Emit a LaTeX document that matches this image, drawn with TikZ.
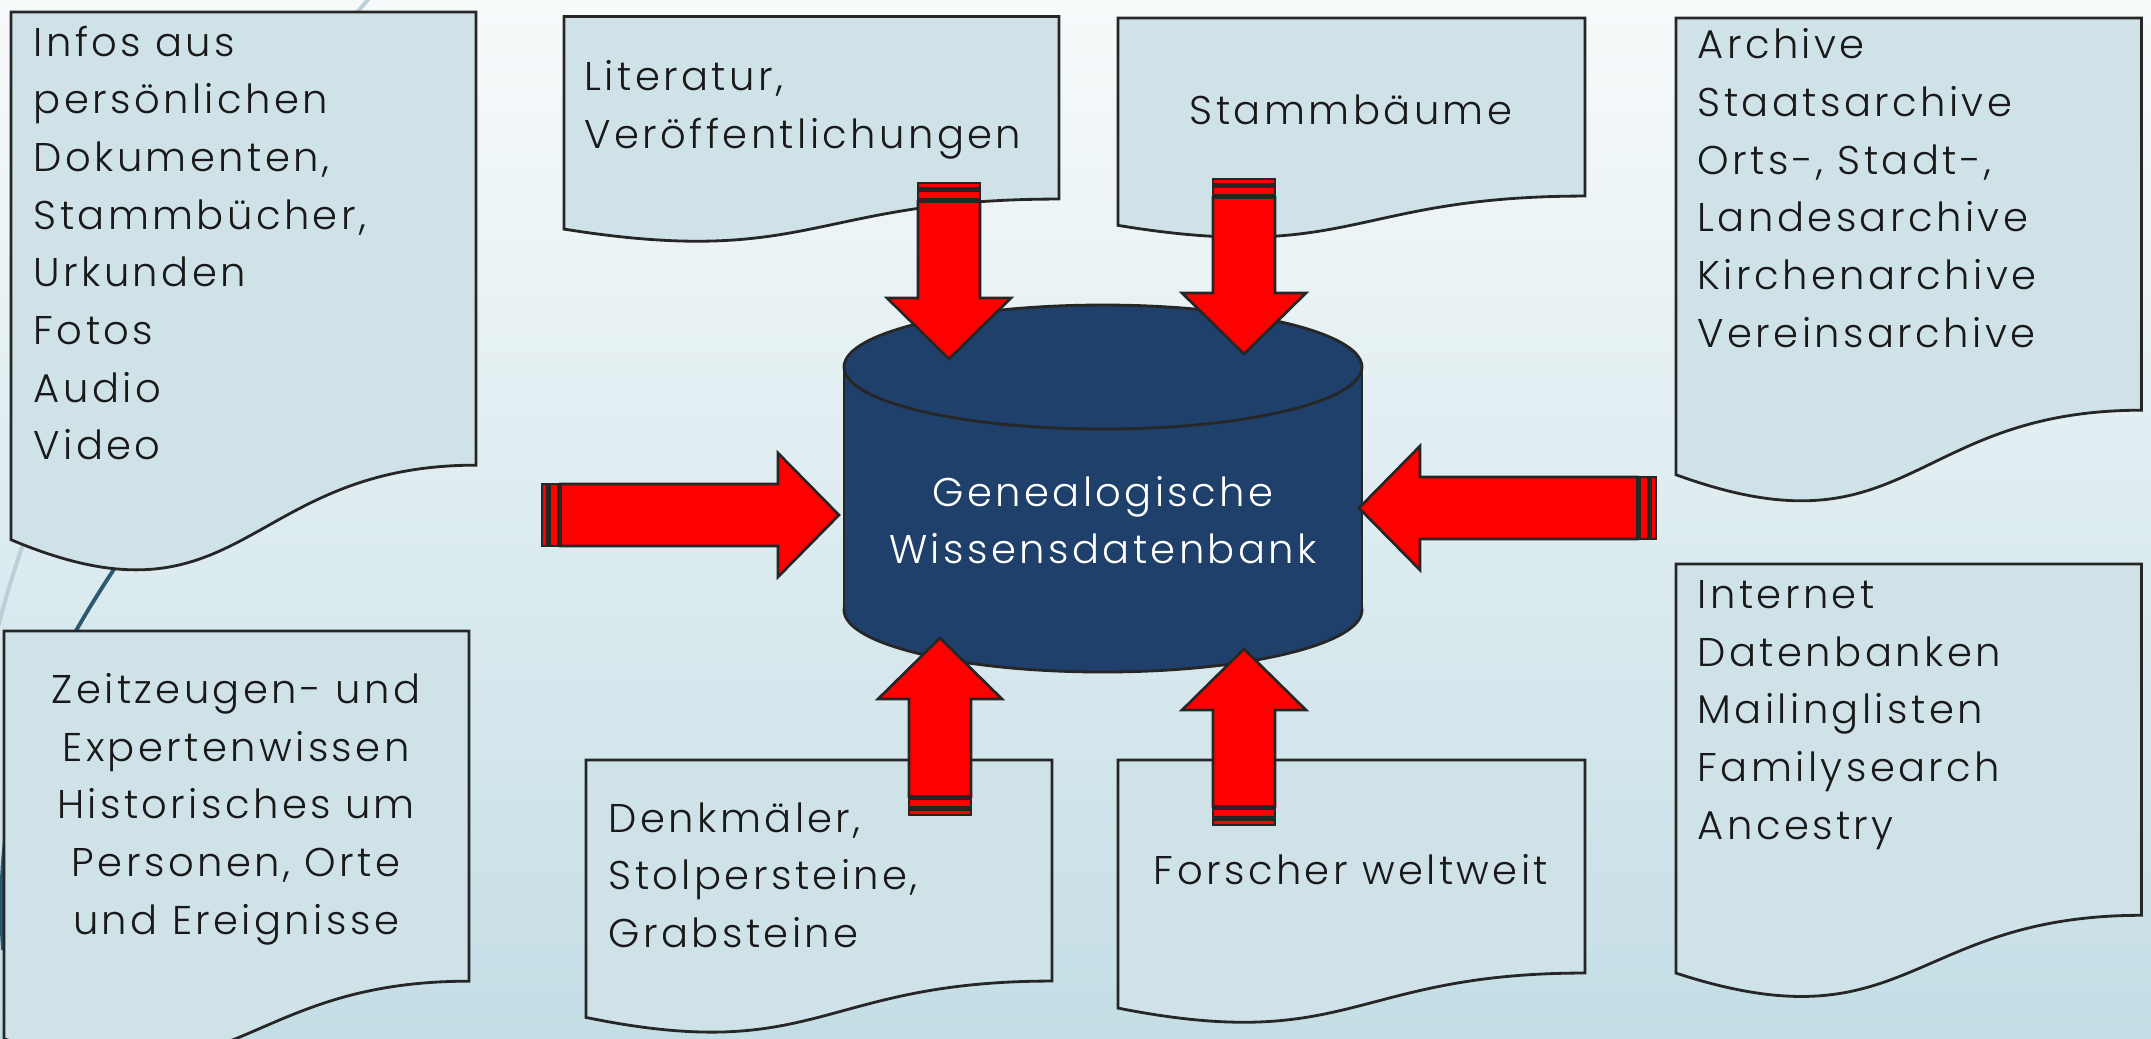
\documentclass[tikz,border=0pt]{standalone}
\usepackage{fontspec}
\setmainfont{Poppins Light}[LetterSpace=8.5]

\definecolor{boxfill}{RGB}{207,226,232}
\definecolor{lineclr}{RGB}{38,38,38}
\definecolor{dbblue}{RGB}{31,64,106}
\definecolor{swoosh}{RGB}{45,88,114}
\definecolor{swooshlight}{RGB}{185,208,216}
\definecolor{bgtop}{RGB}{247,250,251}
\definecolor{bgbottom}{RGB}{196,222,229}

\tikzset{
  pics/stripearrow/.style={code={
    \draw[arrowpart] (0,-31) rectangle (5.5,31);
    \draw[arrowpart] (7.5,-31) rectangle (16.5,31);
    \draw[arrowpart] (18.5,-31) -- (#1-61,-31) -- (#1-61,-62) -- (#1,0)
      -- (#1-61,62) -- (#1-61,31) -- (18.5,31) -- cycle;
  }}
}
% document shape: left, top, width, height
\newcommand\docbox[4]{%
  \draw[docline] (#1,#2) -- (#1+#3,#2) -- (#1+#3,#2+0.802*#4)
    .. controls (#1+0.5*#3,#2+0.802*#4) and (#1+0.5*#3,#2+1.1075*#4) .. (#1,#2+0.934*#4) -- cycle;}

\begin{document}
\begin{tikzpicture}[x=0.01cm, y=-0.01cm,
    docline/.style = {draw=lineclr, fill=boxfill, line width=0.8pt},
    arrowpart/.style = {draw=lineclr, fill=red, line width=0.75pt},
    txt/.style = {font=\fontsize{11.4}{16.4}\selectfont, inner sep=0pt, align=left, text=black!90}]
\shade[top color=bgtop, bottom color=bgbottom] (0,0) rectangle (2151,1038);
\useasboundingbox (0,0) rectangle (2151,1038);
% background swooshes
\draw[swooshlight, line width=1.1pt] (372,-5) .. controls (150,250) and (40,450) .. (-5,640);
\draw[swoosh, line width=1.1pt] (130,545) .. controls (60,650) and (-10,760) .. (3,950);

% sources
\docbox{11}{12}{465}{565}
\docbox{564}{16.5}{495}{227.6}
\docbox{1118}{18}{467}{222}
\docbox{1676}{18}{465.5}{489}
\docbox{1676}{564}{465.5}{438}
\docbox{4}{631}{465}{436.6}
\docbox{586}{760}{466}{275.6}
\docbox{1118}{760}{467}{265.6}

\node[txt, anchor=west] (infos) at (33,243) {Infos aus\\persönlichen\\Dokumenten,\\Stammbücher,\\Urkunden\\Fotos\\Audio\\Video};
\node[txt, anchor=west] (lit) at (584,110) {Literatur,\\Veröffentlichungen};
\node[txt] (stamm) at (1351,110) {Stammbäume};
\node[txt, anchor=west] (archiv) at (1697,188) {Archive\\Staatsarchive\\Orts-, Stadt-,\\Landesarchive\\Kirchenarchive\\Vereinsarchive};
\node[txt, anchor=west] (inet) at (1697,715) {Internet\\Datenbanken\\Mailinglisten\\Familysearch\\Ancestry};
\node[txt, align=center] (zeit) at (236,809) {Zeitzeugen- und\\Expertenwissen\\Historisches um\\Personen, Orte\\und Ereignisse};
\node[txt, anchor=west] (denk) at (608,875) {Denkmäler,\\Stolpersteine,\\Grabsteine};
\node[txt] (forsch) at (1351,870) {Forscher weltweit};

% database
\filldraw[fill=dbblue, draw=lineclr, line width=0.8pt] (1103,610) ellipse (259 and 62);
\fill[dbblue] (844,367) rectangle (1362,610);
\draw[lineclr, line width=0.8pt] (844,367) -- (844,610) (1362,367) -- (1362,610);
\filldraw[fill=dbblue, draw=lineclr, line width=0.8pt] (1103,367) ellipse (259 and 62);
\node[txt, align=center, text=white] (db) at (1103,520) {Genealogische\\Wissensdatenbank};

% arrows into the database
\coordinate (infosTail) at (542,515);
\coordinate (archivTail) at (1656,508);
\coordinate (litTail) at (949,183);
\coordinate (stammTail) at (1244,179);
\coordinate (denkTail) at (940,815);
\coordinate (forschTail) at (1244,825);
\pic at (infosTail) {stripearrow=297};
\pic[rotate=180] at (archivTail) {stripearrow=297};
\pic[rotate=-90] at (litTail) {stripearrow=176};
\pic[rotate=-90] at (stammTail) {stripearrow=175};
\pic[rotate=90] at (denkTail) {stripearrow=177};
\pic[rotate=90] at (forschTail) {stripearrow=176};
\end{tikzpicture}
\end{document}
